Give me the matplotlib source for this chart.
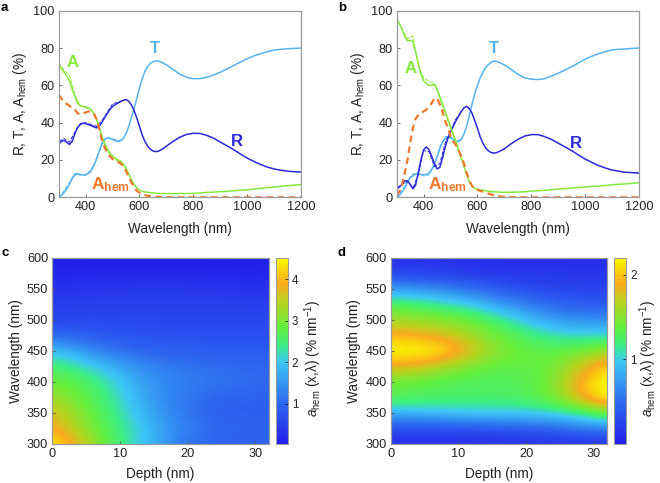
import numpy as np
import matplotlib
matplotlib.use("Agg")
import matplotlib.pyplot as plt
from matplotlib.colors import LinearSegmentedColormap

plt.rcParams.update({
    'font.family': ['Liberation Sans', 'DejaVu Sans'],
    'mathtext.fontset': 'custom',
    'mathtext.rm': 'Liberation Sans',
    'mathtext.it': 'Liberation Sans:italic',
    'mathtext.bf': 'Liberation Sans:bold',
    'mathtext.default': 'regular',
})

W, H = 660, 483

wl = [300, 310, 320, 330, 340, 350, 360, 370, 380, 390, 400, 410, 420, 430, 440, 450, 460, 470, 480, 490,
      500, 510, 520, 530, 540, 550, 560, 570, 580, 590, 600, 610, 620, 630, 640, 650, 660, 670, 680, 690, 700,
      725, 750, 775, 800, 825, 850, 875, 900, 925, 950, 975, 1000, 1025, 1050, 1075, 1100, 1125, 1150, 1175, 1200]

T_a = [0, 1, 2.5, 4.5, 7, 10, 12, 12.5, 12, 12, 12.2, 13, 14.5, 17, 20.5, 24.5, 28.5, 31, 31.8, 31.5,
       31, 30.3, 30, 30.3, 31.5, 34, 38, 42.5, 47.5, 53, 58.5, 63.5, 67.5, 70, 71.7, 72.7, 73, 73, 72.5, 71.8, 71,
       68.5, 66, 64.3, 63.6, 63.6, 64.3, 65.5, 67, 68.8, 70.6, 72.5, 74.2, 75.8, 77, 78, 78.9, 79.3, 79.6, 79.8, 80]
R_a = [28.5, 30, 30.5, 29.5, 28.3, 30, 34, 37.5, 39, 39.7, 39.5, 39, 38.5, 37.8, 37.2, 38, 40, 42.5, 44.8, 47,
       48.7, 49.7, 50.5, 51.3, 52, 52.4, 51.5, 49.5, 46.5, 42.5, 38, 33.5, 30, 27.5, 25.8, 24.8, 24.5, 24.7, 25.4, 26.3, 27.4,
       30, 32.2, 33.7, 34.3, 34.2, 33.2, 31.7, 29.6, 27.6, 25.5, 23.2, 21, 19.2, 17.6, 16.2, 15.2, 14.5, 14, 13.7, 13.5]
A_a = [71, 69, 67, 65, 62.5, 58, 54, 50.5, 49, 48.7, 48.5, 48, 47, 45, 42, 37.5, 33, 29, 26, 23.8,
       22, 21, 20, 19.3, 18, 15.5, 12.5, 9.5, 7, 5, 3.8, 3.2, 2.9, 2.7, 2.5, 2.4, 2.2, 2.1, 2, 2, 2,
       2, 2, 2, 2.1, 2.3, 2.6, 2.8, 3, 3.2, 3.5, 3.8, 4, 4.4, 4.8, 5.2, 5.5, 5.9, 6.2, 6.5, 6.8]
H_a = [55, 53, 51, 50, 49, 48, 47, 45, 44.5, 45, 45.5, 46, 46, 45, 42, 37, 31, 27, 24, 22,
       20.5, 19.5, 19, 18, 17, 14, 11, 8, 5.5, 3.5, 2.5, 1.7, 1.2, .8, .6, .4, .3, .2, .2, .1, .1,
       0, 0, 0, 0, 0, 0, 0, 0, 0, 0, 0, 0, 0, 0, 0, 0, 0, 0, 0, 0]

T_b = [0, 1, 3, 5, 8, 10.5, 11.5, 12.5, 12.5, 12.2, 12, 12.3, 13, 15, 18, 21.5, 26, 29.5, 31.5, 32,
       32, 31, 30, 30, 31, 34, 38, 44, 50, 55.5, 60, 64, 67, 69.5, 71, 72.3, 73, 72.8, 72.3, 71.7, 71,
       68.5, 66, 64, 63.3, 63.1, 63.6, 65, 66.5, 68.2, 70, 72, 74, 75.6, 77, 78, 79, 79.3, 79.5, 79.8, 80]
R_b = [4.5, 5.5, 7, 8.8, 8.8, 7, 4.5, 6.5, 13, 20, 25.5, 27, 25.5, 22, 18, 15.2, 16, 21, 27, 31.5,
       35, 38, 41, 43.5, 46, 48, 48.7, 47.5, 45, 41, 37, 32.5, 29, 26.5, 25, 24, 23.7, 23.9, 24.5, 25.2, 26,
       28.7, 31, 32.8, 33.6, 33.6, 32.5, 31, 29, 27, 25, 22.7, 20.5, 18.7, 17, 15.7, 14.6, 14, 13.4, 13.2, 13]
A_b = [95.5, 93, 90, 86, 84, 84, 83.5, 78, 72, 66, 62.5, 61, 60, 60, 60.5, 58, 54, 50, 46, 42,
       38, 34, 30, 25.5, 21, 16.5, 12, 8.5, 6, 4.8, 4.2, 4, 3.8, 3.5, 3.3, 3.1, 3, 2.9, 2.8, 2.7, 2.7,
       2.7, 2.8, 3, 3.3, 3.5, 3.8, 4.1, 4.4, 4.7, 5, 5.2, 5.5, 5.8, 6, 6.4, 6.7, 7, 7.2, 7.5, 7.8]
H_b = [1, 3, 7, 13, 20, 29, 37, 42, 44, 45, 46, 47, 48.5, 50.5, 53, 53, 50, 46, 41, 37,
       33, 30, 28, 25, 22, 18, 13, 9, 6, 4.7, 4, 3.5, 3, 2.5, 2, 1.6, 1.2, .9, .6, .4, .3,
       0, 0, 0, 0, 0, 0, 0, 0, 0, 0, 0, 0, 0, 0, 0, 0, 0, 0, 0, 0]

# second (thin dashed) traces visible at short wavelengths
wl_m = [300, 320, 340, 360, 380, 400, 420, 440, 460, 480, 500, 520, 540]
T_a_m = [0, 3.5, 8, 12.8, 12.5, 11.7, 13.5, 20, 29, 32, 31.5, 30.5, 31]
R_a_m = [30, 31.5, 29.5, 35, 39.5, 40, 39, 38, 41, 45.5, 50, 51, 52]
A_a_m = [72, 68, 65.5, 55, 49, 48, 47, 43, 32, 25, 21, 19.5, 18]
T_b_m = [0, 3.5, 9, 12.5, 13, 11.5, 12, 17, 27, 32.5, 32.5, 30, 31]
R_b_m = [5, 7, 8.5, 5, 12, 25, 24.5, 16.5, 18, 29, 36, 42, 46]
A_b_m = [96, 90, 85, 86.5, 71, 64, 62, 61.5, 53, 45, 37, 29, 20]

depth = [0, 4, 8, 12, 16, 20, 24, 28, 32]
wl_map = [300, 325, 350, 375, 400, 425, 450, 475, 500, 525, 550, 575, 600]
map_c = [
    [4.5, 3.75, 2.8, 2.2, 1.6, 1.1, .95, .95, .95],
    [4.0, 3.3, 2.7, 2.2, 1.65, 1.25, 1.05, 1.0, 1.0],
    [3.7, 3.1, 2.6, 2.0, 1.5, 1.15, .95, .9, .9],
    [3.3, 2.9, 2.45, 1.9, 1.4, 1.15, 1.0, .95, .95],
    [2.9, 2.75, 2.3, 1.75, 1.4, 1.25, 1.15, 1.1, 1.05],
    [2.6, 2.3, 1.9, 1.5, 1.25, 1.15, 1.1, 1.05, 1.0],
    [2.0, 1.6, 1.2, 1.0, .95, .9, .85, .85, .85],
    [1.0, .9, .8, .75, .7, .7, .7, .7, .7],
    [.6, .6, .6, .6, .6, .6, .6, .6, .6],
    [.45, .48, .5, .52, .52, .5, .5, .48, .45],
    [.3, .33, .36, .38, .4, .38, .36, .33, .3],
    [.15, .17, .18, .18, .18, .18, .17, .16, .15],
    [.05, .05, .05, .05, .05, .05, .05, .05, .05],
]
map_d = [
    [.1, .1, .1, .1, .1, .1, .1, .1, .1],
    [.3, .3, .3, .3, .35, .4, .45, .55, .6],
    [.85, .9, .95, 1, 1, 1, 1.05, 1.15, 1.45],
    [1.35, 1.3, 1.25, 1.25, 1.25, 1.3, 1.45, 1.9, 2.25],
    [1.38, 1.35, 1.3, 1.28, 1.28, 1.3, 1.45, 1.95, 2.25],
    [1.85, 1.78, 1.6, 1.42, 1.35, 1.35, 1.42, 1.75, 2.1],
    [2.25, 2.25, 2.15, 1.8, 1.5, 1.38, 1.35, 1.42, 1.6],
    [1.95, 1.9, 1.8, 1.58, 1.4, 1.25, 1.1, 1.05, 1.05],
    [1.6, 1.55, 1.5, 1.4, 1.2, .95, .75, .7, .7],
    [1.3, 1.25, 1.1, 1.0, .75, .6, .45, .4, .4],
    [.75, .72, .65, .5, .4, .3, .28, .25, .25],
    [.25, .22, .2, .18, .15, .15, .15, .15, .15],
    [.12, .12, .12, .1, .1, .1, .1, .1, .1],
]

C_T, C_R, C_A, C_H = '#55b4f0', '#2a2ad8', '#86e83c', '#f0782d'
SPINE, INK = '#9a9a9a', '#222222'
FS = 9.2

cmap = LinearSegmentedColormap.from_list('hem', [
    (0.00, (35/255, 30/255, 235/255)), (0.22, (45/255, 105/255, 240/255)),
    (0.44, (60/255, 200/255, 245/255)), (0.53, (60/255, 238/255, 130/255)),
    (0.63, (100/255, 238/255, 60/255)), (0.77, (190/255, 210/255, 30/255)),
    (0.86, (250/255, 170/255, 30/255)), (1.00, (250/255, 250/255, 0)),
])


def axpx(fig, l, t, r, b):
    return fig.add_axes([l / W, 1 - b / H, (r - l) / W, (b - t) / H])


def style(ax):
    for s in ax.spines.values():
        s.set_color(SPINE)
        s.set_linewidth(0.9)
    ax.tick_params(direction='in', length=2.5, width=0.6, color='#555555',
                   labelsize=FS, labelcolor=INK, pad=3)


def lines(ax, T, R, A, Hm, Tm, Rm, Am, labels):
    ax.plot(wl, T, color=C_T, lw=1.1)
    ax.plot(wl_m, Tm, color=C_T, lw=0.7, ls=(0, (4, 1.5)))
    ax.plot(wl, R, color=C_R, lw=1.1)
    ax.plot(wl_m, Rm, color=C_R, lw=0.7, ls=(0, (4, 1.5)))
    ax.plot(wl, A, color=C_A, lw=1.1)
    ax.plot(wl_m, Am, color=C_A, lw=0.7, ls=(0, (4, 1.5)))
    ax.plot(wl, Hm, color=C_H, lw=1.6, ls=(0, (3, 2)))
    ax.set_xlim(300, 1200)
    ax.set_ylim(0, 100)
    ax.set_xticks(range(400, 1201, 200))
    ax.set_yticks(range(0, 101, 20))
    ax.set_xlabel('Wavelength (nm)', fontsize=FS + 0.6, color=INK, labelpad=6)
    ax.set_ylabel('R, T, A, A$_{hem}$ (%)', fontsize=FS + 0.6, color=INK, labelpad=3)
    style(ax)
    for s, x, y, c in labels:
        ax.text(x, y, s, color=c, fontsize=12, fontweight='bold', ha='center', va='center')


def heat(fig, rect, crect, data, vmin, vmax, ticks, pad):
    ax = axpx(fig, *rect)
    im = ax.imshow(data, origin='lower', aspect='auto', cmap=cmap, vmin=vmin, vmax=vmax,
                   extent=(-2, 34, 287.5, 612.5), interpolation='bicubic')
    ax.set_xlim(0, 32)
    ax.set_ylim(300, 600)
    ax.set_xticks([0, 10, 20, 30])
    ax.set_yticks(range(300, 601, 50))
    ax.set_xlabel('Depth (nm)', fontsize=FS + 0.6, color=INK, labelpad=5)
    ax.set_ylabel('Wavelength (nm)', fontsize=FS + 0.6, color=INK, labelpad=3)
    style(ax)
    cax = axpx(fig, *crect)
    cb = fig.colorbar(im, cax=cax, ticks=ticks)
    cb.outline.set_edgecolor(SPINE)
    cb.outline.set_linewidth(0.8)
    cax.tick_params(direction='in', length=2, width=0.5, labelsize=FS - 0.8, labelcolor=INK, pad=3)
    cax.set_ylabel(r'$\mathit{a}_{hem}$ (x,$\lambda$) (% nm$^{-1}$)', fontsize=FS + 0.6, color=INK,
                   labelpad=pad, y=0.46)
    return ax


fig = plt.figure(figsize=(W / 100, H / 100), dpi=100)

ax_a = axpx(fig, 58.7, 10.7, 301, 197.3)
lines(ax_a, T_a, R_a, A_a, H_a, T_a_m, R_a_m, A_a_m,
      [('A', 352, 72, C_A), ('T', 657, 80, C_T), ('R', 962, 30, C_R)])
ax_a.text(494, 7, 'A$_{hem}$', color=C_H, fontsize=12.5, fontweight='bold', ha='center', va='center')

ax_b = axpx(fig, 396.7, 10.7, 639, 197.3)
lines(ax_b, T_b, R_b, A_b, H_b, T_b_m, R_b_m, A_b_m,
      [('A', 350, 69, C_A), ('T', 660, 80, C_T), ('R', 965, 29, C_R)])
ax_b.text(490, 7, 'A$_{hem}$', color=C_H, fontsize=12.5, fontweight='bold', ha='center', va='center')

heat(fig, (52.3, 257.7, 269, 443.7), (276, 257.7, 287.7, 443.7), map_c, 0.04, 4.52, [1, 2, 3, 4], 3)
heat(fig, (390.7, 257.7, 607.3, 443.7), (614, 257.7, 626, 443.7), map_d, 0.0, 2.2, [1, 2], 0.5)

for s, x, y in [('a', 1, 8), ('b', 338, 8), ('c', 1, 253), ('d', 338, 253)]:
    fig.text(x / W, 1 - y / H, s, fontsize=9.5, fontweight='bold', color='black', va='center')

fig.savefig('out.png', dpi=100)
